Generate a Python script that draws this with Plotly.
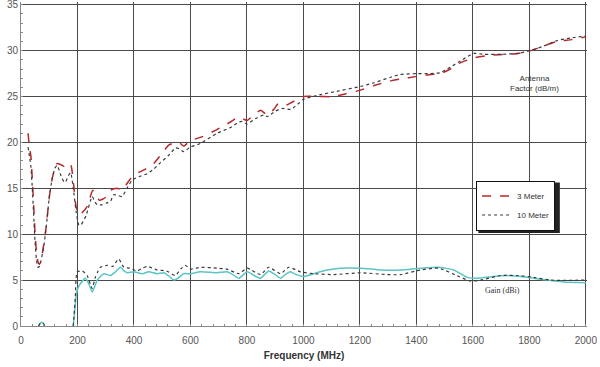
import plotly.graph_objects as go

# Antenna factor, 3 m (dB/m)
af3_freq = [25, 30, 35, 40, 45, 50, 55, 60, 65, 70, 80, 90, 100, 110, 120, 128, 140, 152, 160, 170, 178, 187, 195, 205, 215, 234, 254, 265, 278, 299, 317, 340, 358, 375, 394, 415, 435, 455, 470, 494, 523, 547, 560, 576, 600, 640, 694, 740, 771, 790, 801, 825, 848, 872, 895, 913, 942, 978, 1000, 1060, 1107, 1150, 1202, 1250, 1308, 1343, 1402, 1450, 1485, 1520, 1557, 1603, 1662, 1721, 1760, 1804, 1850, 1898, 1950, 2000]
af3_val = [21.0, 19.5, 18.5, 16.0, 13.0, 10.0, 8.0, 7.0, 6.7, 7.0, 8.8, 11.0, 14.0, 16.0, 17.2, 17.7, 17.6, 17.4, 17.6, 17.8, 17.4, 15.2, 13.0, 12.1, 12.3, 13.0, 14.8, 14.2, 13.7, 14.0, 14.8, 15.0, 14.8, 15.5, 16.3, 16.7, 17.0, 17.4, 17.7, 18.6, 19.7, 20.0, 20.0, 19.6, 20.2, 20.6, 21.4, 22.2, 22.8, 22.5, 22.4, 23.0, 23.5, 23.0, 23.6, 24.3, 24.1, 24.7, 25.0, 25.0, 25.0, 25.3, 25.7, 26.2, 26.7, 26.9, 27.2, 27.4, 27.5, 28.0, 28.7, 29.2, 29.5, 29.6, 29.7, 30.0, 30.5, 31.0, 31.2, 31.5]

# Antenna factor, 10 m (dB/m)
af10_freq = [25, 30, 35, 40, 45, 50, 55, 60, 65, 70, 80, 90, 100, 110, 120, 128, 140, 152, 158, 168, 176, 185, 195, 205, 212, 230, 252, 262, 270, 285, 303, 317, 328, 345, 358, 375, 394, 420, 447, 470, 494, 523, 547, 560, 576, 600, 636, 694, 740, 771, 783, 801, 830, 860, 872, 900, 925, 955, 985, 1000, 1060, 1107, 1202, 1250, 1308, 1343, 1402, 1450, 1485, 1520, 1557, 1603, 1640, 1700, 1760, 1804, 1850, 1898, 1950, 2000]
af10_val = [19.5, 18.5, 17.4, 15.0, 12.0, 9.0, 7.2, 6.4, 6.5, 7.0, 8.5, 11.0, 14.0, 16.0, 17.2, 17.5, 16.5, 15.7, 15.7, 16.4, 16.7, 15.0, 12.5, 11.0, 11.0, 12.0, 14.1, 13.5, 13.2, 13.2, 13.4, 13.6, 14.3, 14.2, 14.1, 15.0, 15.9, 16.3, 16.6, 17.1, 17.8, 18.6, 19.4, 19.3, 19.0, 19.5, 19.9, 21.0, 21.6, 22.2, 22.3, 22.0, 22.6, 23.0, 22.8, 23.4, 23.7, 23.6, 24.3, 24.7, 25.2, 25.5, 26.1, 26.5, 27.1, 27.4, 27.5, 27.5, 27.6, 28.2, 28.9, 29.7, 29.6, 29.6, 29.7, 30.0, 30.5, 31.1, 31.4, 31.6]

# Gain, 3 m (dBi) - None marks a gap
gain3_freq = [62, 68, 74, 80, 84, 120, 185, 190, 195, 200, 210, 228, 240, 252, 262, 270, 293, 317, 335, 352, 365, 376, 400, 429, 452, 482, 506, 525, 541, 555, 576, 600, 636, 694, 729, 750, 771, 801, 825, 848, 877, 900, 919, 935, 954, 975, 1001, 1036, 1084, 1131, 1202, 1273, 1343, 1414, 1479, 1532, 1580, 1615, 1674, 1721, 1792, 1863, 1922, 2000]
gain3_val = [0.0, 0.3, 0.4, 0.25, 0.0, None, 0.0, 1.5, 3.2, 4.0, 4.6, 5.2, 4.6, 3.7, 4.4, 5.0, 5.7, 5.5, 5.9, 6.4, 6.0, 5.8, 5.9, 5.7, 5.9, 5.7, 5.8, 5.4, 5.0, 5.2, 5.7, 5.7, 5.9, 5.8, 5.9, 5.6, 5.2, 5.9, 5.5, 5.2, 6.0, 5.6, 5.2, 5.6, 5.9, 5.6, 5.4, 5.7, 6.1, 6.3, 6.3, 6.1, 6.1, 6.3, 6.4, 6.1, 5.3, 5.2, 5.4, 5.5, 5.3, 5.0, 4.8, 4.7]

# Gain, 10 m (dBi)
gain10_freq = [62, 70, 78, 84, 120, 185, 192, 199, 217, 234, 252, 262, 270, 281, 305, 325, 346, 364, 385, 411, 430, 447, 482, 515, 547, 565, 582, 600, 636, 694, 729, 771, 801, 848, 877, 919, 948, 989, 1036, 1107, 1202, 1296, 1343, 1414, 1479, 1550, 1591, 1627, 1697, 1756, 1816, 1875, 2000]
gain10_val = [0.0, 0.35, 0.3, 0.0, None, 0.0, 3.0, 5.9, 6.0, 5.5, 4.1, 5.2, 5.8, 6.4, 6.6, 6.5, 7.3, 6.4, 6.3, 6.0, 6.3, 6.5, 6.1, 6.0, 5.5, 6.2, 6.6, 6.2, 6.4, 6.3, 6.2, 5.7, 6.3, 5.6, 6.4, 5.7, 6.4, 5.9, 5.7, 5.6, 5.8, 5.6, 5.6, 6.1, 6.3, 5.4, 4.9, 5.0, 5.5, 5.5, 5.3, 5.0, 5.0]

RED = "#b8282a"
DARK = "#3a3a3a"
CYAN = "#5cc4c4"
GRID = "#4a4a4a"
FONT = "Liberation Sans"

fig = go.Figure()
fig.add_trace(go.Scatter(x=gain3_freq, y=gain3_val, mode="lines", connectgaps=False,
                         line=dict(color=CYAN, width=1.5, shape="spline", smoothing=0.5),
                         showlegend=False))
fig.add_trace(go.Scatter(x=gain10_freq, y=gain10_val, mode="lines", connectgaps=False,
                         line=dict(color=DARK, width=1.2, dash="dot", shape="spline", smoothing=0.5),
                         showlegend=False))
fig.add_trace(go.Scatter(x=af3_freq, y=af3_val, mode="lines", name="3 Meter",
                         line=dict(color=RED, width=1.5, dash="dash", shape="spline", smoothing=0.5)))
fig.add_trace(go.Scatter(x=af10_freq, y=af10_val, mode="lines", name="10 Meter",
                         line=dict(color=DARK, width=1.2, dash="dot", shape="spline", smoothing=0.5)))

# legend shadow
fig.add_shape(type="rect", xref="paper", yref="paper",
              x0=0.808, x1=0.952, y0=0.287, y1=0.443,
              fillcolor="#222", line=dict(width=0), layer="above")

fig.add_annotation(x=1818, y=26.4, text="Antenna<br>Factor (dB/m)", showarrow=False,
                   font=dict(family=FONT, size=8, color="#333"))
fig.add_annotation(x=1705, y=3.9, text="Gain (dBi)", showarrow=False,
                   font=dict(family="Liberation Serif", size=8, color="#333"))

YTOP = 35.3
fig.update_layout(
    width=600, height=367,
    margin=dict(l=20.5, r=13.2, t=2.2, b=41.3),
    paper_bgcolor="white", plot_bgcolor="rgba(0,0,0,0)",
    font=dict(family=FONT, color="#555"),
    legend=dict(x=0.804, y=0.449, xanchor="left", yanchor="top",
                bgcolor="white", bordercolor="#111", borderwidth=1,
                font=dict(family=FONT, size=8, color="#333"),
                tracegroupgap=0, itemwidth=30),
    xaxis=dict(range=[0, 2004], tickvals=list(range(0, 2001, 200)), showgrid=True, gridcolor=GRID, gridwidth=1.2,
               showline=True, linecolor="#888", linewidth=1, mirror=False, automargin=False,
               ticks="inside", ticklen=2, tickcolor="#888", ticklabeloverflow="allow",
               ticklabelstandoff=5,
               minor=dict(tickvals=list(range(0, 2001, 40)), ticks="inside", ticklen=2, tickcolor="#888", showgrid=False),
               tickfont=dict(family=FONT, size=10, color="#555"), zeroline=False,
               title=dict(text="<b>Frequency (MHz)</b>", font=dict(family=FONT, size=10, color="#333"), standoff=6)),
    yaxis=dict(range=[0, YTOP], tickvals=list(range(0, 36, 5)), showgrid=True, gridcolor=GRID, gridwidth=1.2,
               showline=True, linecolor="#888", linewidth=1, automargin=False,
               ticks="inside", ticklen=2, tickcolor="#888", ticklabeloverflow="allow",
               minor=dict(tickvals=list(range(0, 36)), ticks="inside", ticklen=2, tickcolor="#888", showgrid=False),
               tickfont=dict(family=FONT, size=10, color="#555"), zeroline=False),
)

fig.write_html("out.html", config={"displayModeBar": False},
               post_script="document.body.style.margin='0px';")
